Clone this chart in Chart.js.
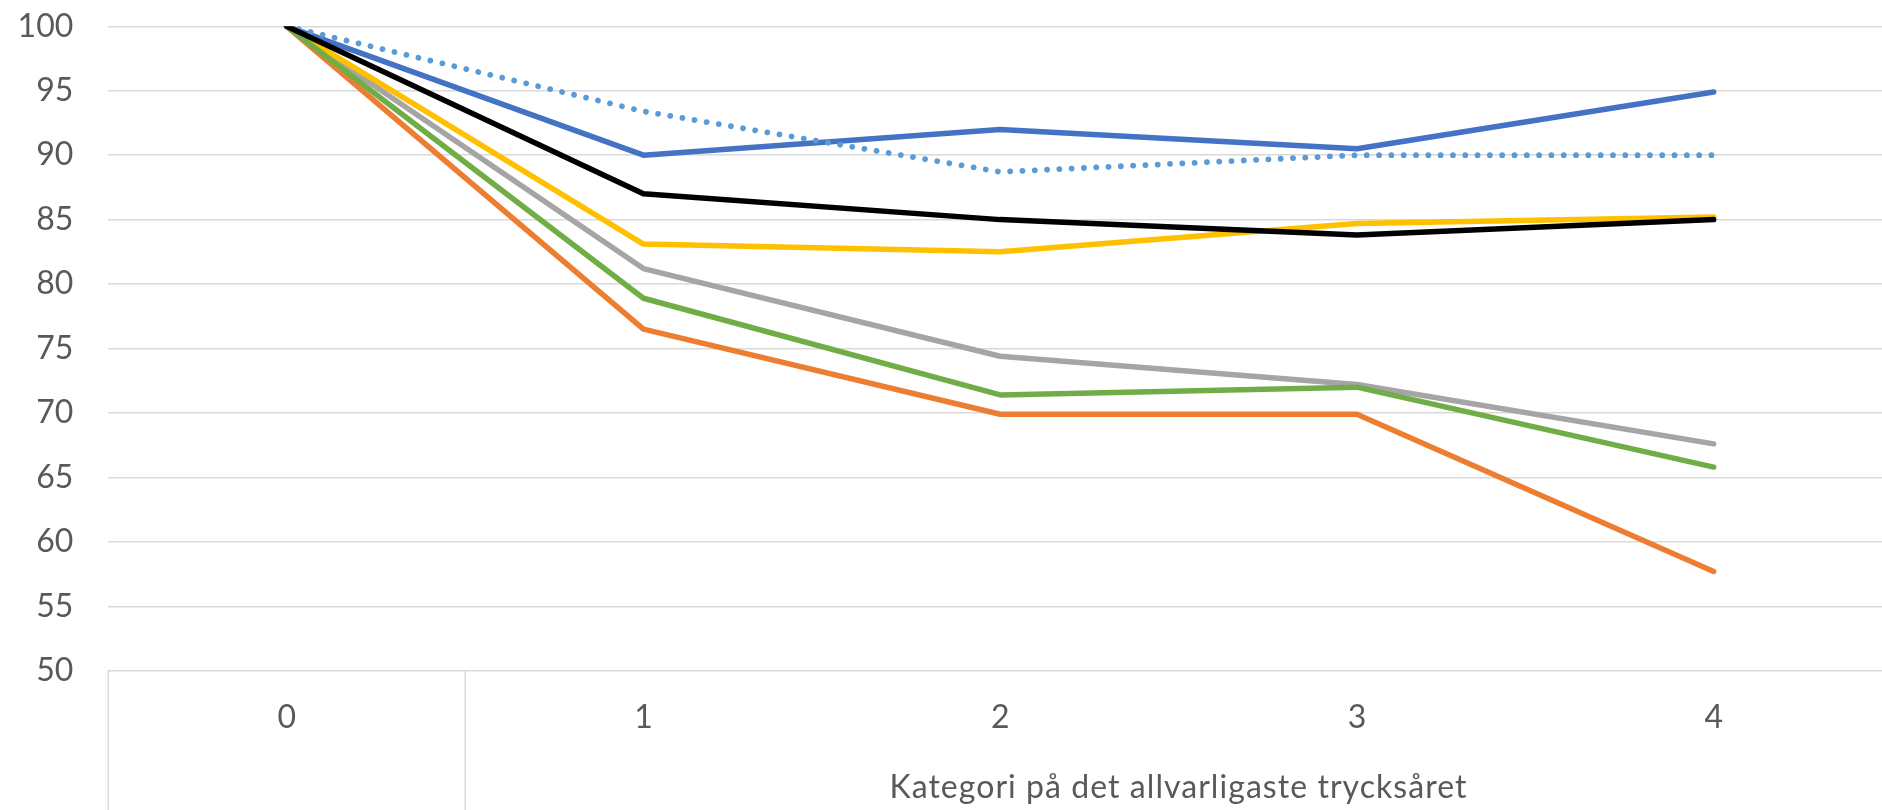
<!DOCTYPE html>
<html>
<head>
<meta charset="utf-8">
<script src="https://cdn.jsdelivr.net/npm/chart.js@4/dist/chart.umd.min.js"></script>
<style>
  html, body { margin: 0; padding: 0; background: #ffffff; overflow: hidden; }
  #wrap { position: relative; width: 1882px; height: 810px; }
</style>
</head>
<body>
<div id="wrap"><canvas id="c"></canvas></div>
<script>
// ---- data ----
const categories = ['0', '1', '2', '3', '4'];
const axisTitle = 'Kategori på det allvarligaste trycksåret';
const yTicks = [50, 55, 60, 65, 70, 75, 80, 85, 90, 95, 100];

const serie1 = [100, 90.0, 92.0, 90.5, 94.9];   // blue
const serie2 = [100, 76.5, 69.9, 69.9, 57.7];   // orange
const serie3 = [100, 81.2, 74.4, 72.2, 67.6];   // grey
const serie4 = [100, 83.1, 82.5, 84.7, 85.2];   // yellow
const serie5 = [100, 93.4, 88.7, 90.0, 90.0];   // light blue dotted
const serie6 = [100, 78.9, 71.4, 72.0, 65.8];   // green
const serie7 = [100, 87.0, 85.0, 83.8, 85.0];   // black

const seriesNames = ['Serie 1', 'Serie 2', 'Serie 3', 'Serie 4', 'Serie 5', 'Serie 6', 'Serie 7'];
const seriesValues = [serie1, serie2, serie3, serie4, serie5, serie6, serie7];
const seriesColors = ['#4472C4', '#ED7D31', '#A5A5A5', '#FFC000', '#5B9BD5', '#70AD47', '#000000'];
const seriesDashed = [false, false, false, false, true, false, false];

// ---- styling ----
const FONT = 'Lato, "Open Sans", sans-serif';
const TEXT = '#595959';
const GRID = '#d9d9d9';

const W = 1882, H = 810;
const PLOT_LEFT = 108.3;
const PLOT_TOP = 26.3;
const PLOT_BOTTOM = 670.7;
const CAT_W = 356.75;  // width of one category band
const xMin = -0.5;
const xMax = xMin + (W - PLOT_LEFT) / CAT_W;  // plot continues past the right edge
const TITLE_WIDTH = 578;

const datasets = seriesValues.map((vals, s) => ({
  label: seriesNames[s],
  data: vals.map((v, i) => ({ x: i, y: v })),
  borderColor: seriesColors[s],
  backgroundColor: seriesColors[s],
  borderWidth: seriesDashed[s] ? 5.8 : 5.5,
  borderDash: seriesDashed[s] ? [0.01, 12.3] : [],
  borderCapStyle: 'round',
  borderJoinStyle: 'round',
  pointRadius: 0,
  pointHoverRadius: 0,
  tension: 0,
  fill: false,
  order: seriesValues.length - s   // later series drawn on top
}));

const dividerPlugin = {
  id: 'multiLevelAxis',
  afterDraw(chart) {
    const { ctx, chartArea, scales } = chart;
    const xs = scales.x;
    ctx.save();
    ctx.strokeStyle = GRID;
    ctx.lineWidth = 1.5;
    [-0.5, 0.5, 4.5].forEach(v => {
      const px = Math.round(xs.getPixelForValue(v)) + 0.25;
      ctx.beginPath();
      ctx.moveTo(px, chartArea.bottom);
      ctx.lineTo(px, H);
      ctx.stroke();
    });
    // second-level category label spanning categories 1..4
    ctx.fillStyle = TEXT;
    ctx.font = '32px ' + FONT;
    ctx.textAlign = 'center';
    ctx.textBaseline = 'alphabetic';
    const n = axisTitle.length;
    const w0 = ctx.measureText(axisTitle).width;
    if ('letterSpacing' in ctx) {
      ctx.letterSpacing = ((TITLE_WIDTH - w0) / n).toFixed(2) + 'px';
    }
    ctx.fillText(axisTitle, xs.getPixelForValue(2.5), 797.5);
    ctx.restore();
  }
};

new Chart(document.getElementById('c'), {
  type: 'line',
  data: { datasets },
  options: {
    responsive: true,
    maintainAspectRatio: false,
    animation: false,
    devicePixelRatio: 1,
    layout: { padding: { top: PLOT_TOP, left: 0, right: 0, bottom: 0 } },
    plugins: { legend: { display: false }, tooltip: { enabled: false }, title: { display: false } },
    scales: {
      x: {
        type: 'linear',
        min: xMin,
        max: xMax,
        grid: { display: false, drawTicks: false },
        border: { display: false },
        afterBuildTicks: (scale) => { scale.ticks = categories.map((c, i) => ({ value: i })); },
        afterFit: (scale) => { scale.height = H - PLOT_BOTTOM; scale.paddingLeft = 0; scale.paddingRight = 0; },
        ticks: {
          autoSkip: false,
          maxRotation: 0,
          padding: 28,
          color: TEXT,
          font: { family: FONT, size: 32 },
          callback: (v) => categories[v]
        }
      },
      y: {
        type: 'linear',
        min: yTicks[0],
        max: yTicks[yTicks.length - 1],
        afterBuildTicks: (scale) => { scale.ticks = yTicks.map(v => ({ value: v })); },
        afterFit: (scale) => { scale.width = PLOT_LEFT; scale.paddingTop = 0; scale.paddingBottom = 0; },
        grid: { color: GRID, lineWidth: 1.5, drawTicks: false },
        border: { display: false },
        ticks: {
          padding: 35,
          color: TEXT,
          font: { family: FONT, size: 32 },
          callback: (v) => String(v)
        }
      }
    }
  },
  plugins: [dividerPlugin]
});
</script>
</body>
</html>
